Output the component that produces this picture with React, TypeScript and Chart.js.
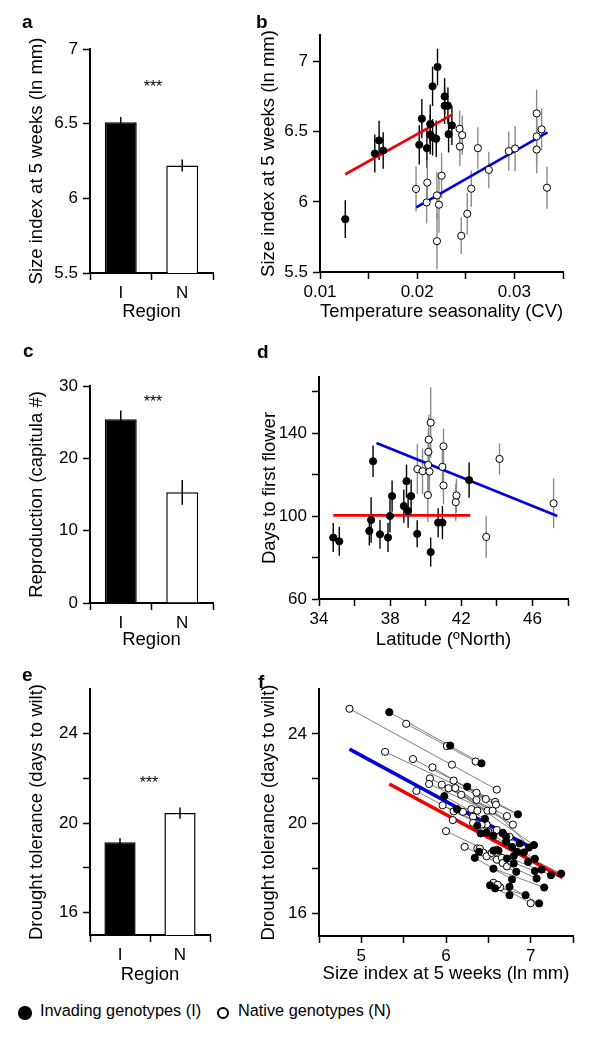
import React, { useEffect, useRef } from 'react';
import { Chart, registerables } from 'chart.js';

Chart.register(...registerables);

const FONT = "'Liberation Sans', Arial, Helvetica, sans-serif";
const TICK_SIZE = 17;
const TITLE_SIZE = 18.5;
const RED = '#f00000';
const BLUE = '#0000d8';

// ---------------- data ----------------
const regions = ['I', 'N'];
const sizeMean = [6.51, 6.22];
const sizeSE = [0.035, 0.04];
const reproMean = [25.4, 15.3];
const reproSE = [1.2, 1.7];
const droughtMean = [19.15, 20.45];
const droughtSE = [0.18, 0.25];

// panel b: [seasonality CV, size index, error]
const seasonInvading = [
  [0.0126, 5.877, 0.135], [0.01564, 6.345, 0.135], [0.01608, 6.438, 0.14], [0.0165, 6.366, 0.13],
  [0.02021, 6.407, 0.14], [0.02048, 6.593, 0.14], [0.021, 6.383, 0.14], [0.02134, 6.555, 0.14],
  [0.02134, 6.479, 0.14], [0.02158, 6.824, 0.14], [0.02158, 6.46, 0.13], [0.02196, 6.45, 0.13],
  [0.02209, 6.962, 0.13], [0.02282, 6.752, 0.13], [0.02282, 6.686, 0.13], [0.02316, 6.686, 0.13],
  [0.02323, 6.483, 0.13], [0.02357, 6.545, 0.14],
];
const seasonNative = [
  [0.01988, 6.092, 0.16], [0.02097, 5.996, 0.15], [0.02104, 6.137, 0.16], [0.02203, 6.046, 0.17],
  [0.02203, 5.72, 0.2], [0.02224, 5.98, 0.2], [0.02251, 6.187, 0.16], [0.02436, 6.521, 0.13],
  [0.02439, 6.395, 0.14], [0.02463, 6.476, 0.14], [0.02453, 5.758, 0.13], [0.02515, 5.915, 0.15],
  [0.02556, 6.094, 0.13], [0.02624, 6.383, 0.15], [0.02737, 6.228, 0.13], [0.02942, 6.362, 0.14],
  [0.03007, 6.381, 0.16], [0.03229, 6.631, 0.17], [0.03229, 6.467, 0.2], [0.03229, 6.373, 0.17],
  [0.0328, 6.517, 0.15], [0.03335, 6.101, 0.15],
];
const seasonFitI = [[0.0126, 6.197], [0.0236, 6.622]];
const seasonFitN = [[0.0199, 5.961], [0.0334, 6.495]];

// panel d: [latitude, days, error]
const latInvading = [
  [34.8, 89.6, 7], [35.14, 87.8, 7], [36.83, 92.8, 7], [36.93, 98.1, 11], [37.04, 126.4, 7.6],
  [37.43, 91.2, 7], [37.88, 89.6, 7], [37.99, 100, 8], [38.11, 109.6, 7.5], [38.77, 104.8, 8],
  [38.92, 116.8, 8], [39.01, 102.4, 8], [39.18, 109.6, 8], [39.52, 91.4, 6.5], [40.28, 82.6, 7],
  [40.7, 96.8, 7], [40.94, 96.8, 8], [42.44, 117.3, 8.5],
];
const latNative = [
  [39.53, 122.6, 12], [39.82, 121.6, 11], [40.12, 110.1, 13], [40.14, 124.6, 12], [40.15, 130.9, 11],
  [40.17, 136.8, 12], [40.21, 121.4, 12], [40.28, 145, 17], [40.94, 123.7, 10], [41.0, 133.6, 8.5],
  [41.0, 114.7, 9], [41.69, 106.7, 9], [41.73, 109.9, 8], [43.4, 89.9, 10], [44.15, 127.5, 7.5],
  [47.19, 106.1, 12],
];
const latFitI = [[34.8, 100.3], [42.5, 100.3]];
const latFitN = [[37.23, 135.2], [47.4, 100]];

// panel f: [size index, days to wilt]
const wiltInvading = [
  [5.33, 24.97], [6.05, 23.48], [6.42, 22.69], [5.98, 21.23], [6.25, 21.65], [6.13, 20.65],
  [6.85, 20.42], [6.46, 20.22], [6.37, 19.91], [6.41, 19.57], [6.48, 19.61], [6.56, 19.46],
  [6.67, 19.57], [6.71, 19.42], [6.71, 19.2], [6.78, 18.97], [6.87, 19.12], [6.92, 18.72],
  [6.84, 18.75], [6.98, 18.94], [7.04, 19.05], [6.39, 18.75], [6.56, 18.8], [6.62, 18.8],
  [6.72, 18.45], [6.8, 18.56], [6.8, 18.23], [6.83, 17.86], [6.97, 18.3], [7.05, 18.44],
  [7.05, 17.89], [7.07, 17.56], [7.13, 17.96], [7.24, 17.71], [7.36, 17.78], [6.34, 18.48],
  [6.56, 18.0], [6.78, 17.52], [6.52, 17.26], [6.58, 17.12], [6.75, 17.19], [6.75, 16.82],
  [6.94, 16.82], [7.16, 17.16], [7.1, 16.45],
];
const wiltNative = [
  [4.86, 25.12], [5.53, 24.45], [6.01, 23.46], [6.35, 22.77], [5.28, 23.2], [5.61, 22.88],
  [5.84, 22.51], [6.07, 22.63], [5.81, 22.02], [5.8, 21.77], [5.95, 21.74], [6.09, 21.92],
  [5.65, 21.46], [6.03, 21.58], [6.11, 21.59], [6.18, 21.29], [6.36, 21.38], [6.36, 21.06],
  [6.47, 21.1], [6.6, 21.52], [6.58, 20.97], [6.59, 20.85], [5.96, 20.82], [6.09, 20.55],
  [6.3, 20.65], [6.37, 20.58], [6.49, 20.58], [6.55, 20.58], [6.72, 20.34], [6.79, 19.96],
  [6.08, 20.16], [6.0, 19.67], [6.22, 18.97], [6.48, 19.97], [6.6, 19.72], [6.37, 18.9],
  [6.56, 17.37], [6.64, 17.17], [7.0, 16.46], [6.2, 20.53], [6.32, 20.31], [6.32, 20.04],
  [6.42, 19.96], [6.5, 19.64], [6.67, 19.6], [6.75, 19.42], [6.4, 18.89], [6.44, 18.71],
  [6.48, 18.55], [6.54, 18.7], [6.6, 18.4], [6.66, 18.48], [6.67, 18.25], [6.72, 18.1],
  [6.77, 18.3], [6.6, 18.84], [6.61, 17.28],
];
// genotype links: [x1, y1, x2, y2]
const wiltLinks = [
  [4.86, 25.12, 6.6, 21.52], [5.33, 24.97, 6.42, 22.69], [5.53, 24.45, 6.35, 22.77],
  [5.28, 23.2, 6.85, 20.42], [5.61, 22.88, 6.58, 20.97], [5.84, 22.51, 6.59, 20.85],
  [5.81, 22.02, 6.72, 20.34], [5.8, 21.77, 6.49, 20.58], [5.65, 21.46, 6.09, 20.55],
  [5.95, 21.74, 6.79, 19.96], [6.09, 21.92, 6.47, 21.1], [5.98, 21.23, 6.46, 20.22],
  [6.25, 21.65, 6.85, 20.42], [6.03, 21.58, 6.55, 20.58], [6.11, 21.59, 6.79, 19.96],
  [6.18, 21.29, 7.04, 19.05], [6.36, 21.38, 7.01, 18.9], [5.96, 20.82, 6.67, 19.57],
  [6.13, 20.65, 6.87, 19.12], [6.09, 20.55, 6.71, 19.42], [6.08, 20.16, 6.78, 18.97],
  [6.0, 19.67, 6.8, 18.23], [6.22, 18.97, 6.83, 17.86], [6.34, 18.48, 6.78, 17.52],
  [6.37, 19.91, 7.01, 18.9], [6.41, 19.57, 6.92, 18.72], [6.56, 19.46, 7.05, 18.44],
  [6.39, 18.75, 7.07, 17.56], [6.56, 18.8, 7.24, 17.71], [6.84, 18.75, 7.36, 17.78],
  [6.52, 17.26, 6.94, 16.82], [6.58, 17.12, 6.75, 16.82], [6.75, 17.19, 7.1, 16.45],
  [6.37, 18.9, 7.05, 17.89], [6.56, 18.0, 7.16, 17.16], [6.61, 17.28, 7.0, 16.46],
];
const wiltFitI = [[5.33, 21.77], [7.38, 17.6]];
const wiltFitN = [[4.86, 23.32], [7.01, 18.93]];

// ticks
const sizeTicks = [5.5, 6, 6.5, 7];
const sizeTickLabels = ['5.5', '6', '6.5', '7'];
const reproTicks = [0, 10, 20, 30];
const reproTickLabels = ['0', '10', '20', '30'];
const wiltTicks = [16, 18, 20, 22, 24];
const wiltTickLabels = ['16', '', '20', '', '24'];
const seasonTicks = [0.01, 0.015, 0.02, 0.025, 0.03, 0.035];
const seasonTickLabels = ['0.01', '', '0.02', '', '0.03', ''];
const latTicks = [34, 36, 38, 40, 42, 44, 46, 48];
const latTickLabels = ['34', '', '38', '', '42', '', '46', ''];
const daysTicks = [60, 80, 100, 120, 140, 160];
const daysTickLabels = ['60', '', '100', '', '140', ''];
const sizeXTicks = [4.5, 5, 5.5, 6, 6.5, 7, 7.5];
const sizeXTickLabels = ['', '5', '', '6', '', '7', ''];

// ---------------- helpers ----------------
const LH = TITLE_SIZE * 1.2;

function drawErrorBars(chart: any) {
  const ctx = chart.ctx;
  const yScale = chart.scales.y;
  chart.data.datasets.forEach((ds: any, i: number) => {
    if (!ds.errors) return;
    const meta = chart.getDatasetMeta(i);
    ctx.save();
    ctx.strokeStyle = ds.errorColor || '#000';
    ctx.lineWidth = ds.errorWidth || 1.5;
    meta.data.forEach((el: any, j: number) => {
      const raw = ds.data[j];
      const v = typeof raw === 'number' ? raw : raw.y;
      const e = ds.errors[j];
      ctx.beginPath();
      ctx.moveTo(el.x, yScale.getPixelForValue(v + e));
      ctx.lineTo(el.x, yScale.getPixelForValue(v - e));
      ctx.stroke();
    });
    ctx.restore();
  });
}

const errorBarPlugin = {
  id: 'errorBars',
  beforeDatasetsDraw(chart: any, _a: any, opts: any) {
    if (!opts || !opts.after) drawErrorBars(chart);
  },
  afterDatasetsDraw(chart: any, _a: any, opts: any) {
    if (opts && opts.after) drawErrorBars(chart);
  },
};

function grid() {
  return { display: true, drawOnChartArea: false, drawTicks: true, tickLength: 7, tickWidth: 1.5, tickColor: '#000', offset: false };
}
function tickFont() {
  return { family: FONT, size: TICK_SIZE };
}
function titleFont() {
  return { family: FONT, size: TITLE_SIZE, lineHeight: 1.2 };
}

function yAxis(min: number, max: number, vals: number[], labels: string[], width: number, text: string, center: number) {
  return {
    type: 'linear',
    position: 'left',
    min,
    max,
    afterBuildTicks: (s: any) => { s.ticks = vals.map((v) => ({ value: v })); },
    afterFit: (s: any) => { s.width = width; },
    grid: grid(),
    border: { display: true, color: '#000', width: 2 },
    ticks: { autoSkip: false, maxRotation: 0, padding: 5, color: '#000', font: tickFont(), callback: (_v: any, i: number) => labels[i] },
    title: { display: true, text, color: '#000', font: titleFont(), padding: { top: center - LH / 2, bottom: 0 } },
  };
}

function xLinear(min: number, max: number, vals: number[], labels: string[], height: number, text: string, offset: number) {
  return {
    type: 'linear',
    position: 'bottom',
    min,
    max,
    afterBuildTicks: (s: any) => { s.ticks = vals.map((v) => ({ value: v })); },
    afterFit: (s: any) => { s.height = height; },
    grid: grid(),
    border: { display: true, color: '#000', width: 2 },
    ticks: { autoSkip: false, maxRotation: 0, padding: 3, color: '#000', font: tickFont(), callback: (_v: any, i: number) => labels[i] },
    title: { display: true, text, color: '#000', font: titleFont(), padding: { top: 0, bottom: offset - LH / 2 } },
  };
}

function xCategory(height: number, offset: number) {
  return {
    type: 'category',
    position: 'bottom',
    offset: true,
    afterFit: (s: any) => { s.height = height; },
    grid: { ...grid(), offset: true },
    border: { display: true, color: '#000', width: 2 },
    ticks: { autoSkip: false, maxRotation: 0, padding: 3, color: '#000', font: tickFont() },
    title: { display: true, text: 'Region', color: '#000', font: titleFont(), padding: { top: 0, bottom: offset - LH / 2 } },
  };
}

function basePlugins(after: boolean) {
  return { legend: { display: false }, tooltip: { enabled: false }, errorBars: { after } };
}

function barConfig(means: number[], errs: number[], yMin: number, yMax: number, vals: number[], labels: string[], yTitle: string, pad: any, yTitleCenter: number, xHeight: number, xOffset: number) {
  return {
    type: 'bar',
    data: {
      labels: regions,
      datasets: [{
        data: means,
        errors: errs,
        errorColor: '#000',
        errorWidth: 1.5,
        backgroundColor: ['#000', '#fff'],
        borderColor: '#000',
        borderWidth: 1.5,
        barPercentage: 0.52,
        categoryPercentage: 1,
      }],
    },
    options: {
      responsive: false,
      animation: false,
      devicePixelRatio: 1,
      layout: { padding: pad },
      plugins: basePlugins(true),
      scales: {
        x: xCategory(xHeight, xOffset),
        y: yAxis(yMin, yMax, vals, labels, 90, yTitle, yTitleCenter),
      },
    },
    plugins: [errorBarPlugin],
  };
}

function pts(arr: number[][]) {
  return arr.map((p) => ({ x: p[0], y: p[1] }));
}

function pointSet(arr: number[][], filled: boolean, errColor: string | null, order: number) {
  return {
    type: 'scatter',
    data: pts(arr),
    errors: errColor ? arr.map((p) => p[2]) : undefined,
    errorColor: errColor,
    errorWidth: 1.4,
    pointRadius: 3.6,
    pointBackgroundColor: filled ? '#000' : '#fff',
    pointBorderColor: '#000',
    pointBorderWidth: 1,
    showLine: false,
    order,
  };
}

function lineSet(arr: number[][], color: string, width: number, order: number) {
  return {
    type: 'scatter',
    data: pts(arr),
    showLine: true,
    borderColor: color,
    borderWidth: width,
    pointRadius: 0,
    fill: false,
    order,
  };
}

function linkSet(links: number[][]) {
  const data: any[] = [];
  links.forEach((s) => {
    data.push({ x: s[0], y: s[1] });
    data.push({ x: s[2], y: s[3] });
    data.push({ x: NaN, y: NaN });
  });
  return {
    type: 'scatter',
    data,
    showLine: true,
    spanGaps: false,
    borderColor: '#707070',
    borderWidth: 0.9,
    pointRadius: 0,
    order: 5,
  };
}

function scatterConfig(datasets: any[], scales: any, pad: any) {
  return {
    type: 'scatter',
    data: { datasets },
    options: {
      responsive: false,
      animation: false,
      devicePixelRatio: 1,
      layout: { padding: pad },
      plugins: basePlugins(false),
      scales,
    },
    plugins: [errorBarPlugin],
  };
}

// ---------------- panels ----------------
const panelA = () => barConfig(sizeMean, sizeSE, 5.5, 7, sizeTicks, sizeTickLabels, 'Size index at 5 weeks (ln mm)',
  { left: 0, right: 17, top: 49, bottom: 0 }, 37, 57, 18);
const panelC = () => barConfig(reproMean, reproSE, 0, 30, reproTicks, reproTickLabels, 'Reproduction (capitula #)',
  { left: 0, right: 17, top: 56, bottom: 0 }, 36.5, 57, 20);
const panelE = () => barConfig(droughtMean, droughtSE, 15, 26, wiltTicks, wiltTickLabels, 'Drought tolerance (days to wilt)',
  { left: 0, right: 20, top: 29, bottom: 0 }, 36.5, 55, 15.5);

const panelB = () => scatterConfig(
  [
    pointSet(seasonInvading, true, '#000', 1),
    pointSet(seasonNative, false, '#8a8a8a', 2),
    lineSet(seasonFitI, RED, 2.6, 3),
    lineSet(seasonFitN, BLUE, 2.6, 3),
  ],
  {
    x: xLinear(0.01, 0.035, seasonTicks, seasonTickLabels, 58, 'Temperature seasonality (CV)', 18),
    y: yAxis(5.5, 7.19, sizeTicks, sizeTickLabels, 90, 'Size index at 5 weeks (ln mm)', 38.5),
  },
  { left: 0, right: 44, top: 35, bottom: 0 },
);

const panelD = () => scatterConfig(
  [
    pointSet(latInvading, true, '#000', 1),
    pointSet(latNative, false, '#8a8a8a', 2),
    lineSet(latFitI, RED, 2.6, 3),
    lineSet(latFitN, BLUE, 2.6, 3),
  ],
  {
    x: xLinear(34, 48, latTicks, latTickLabels, 61, 'Latitude (ºNorth)', 20.5),
    y: yAxis(60, 167, daysTicks, daysTickLabels, 89, 'Days to first flower', 40),
  },
  { left: 0, right: 39, top: 47, bottom: 0 },
);

const panelF = () => scatterConfig(
  [
    pointSet(wiltInvading, true, null, 1),
    pointSet(wiltNative, false, null, 2),
    lineSet(wiltFitI, RED, 3.6, 3),
    lineSet(wiltFitN, BLUE, 3.6, 3),
    linkSet(wiltLinks),
  ],
  {
    x: xLinear(4.5, 7.5, sizeXTicks, sizeXTickLabels, 54, 'Size index at 5 weeks (ln mm)', 16.5),
    y: yAxis(15, 26, wiltTicks, wiltTickLabels, 89, 'Drought tolerance (days to wilt)', 39),
  },
  { left: 0, right: 34, top: 29, bottom: 0 },
);

function ChartPanel({ left, top, width, height, make }: { left: number; top: number; width: number; height: number; make: () => any }) {
  const ref = useRef<HTMLCanvasElement>(null);
  useEffect(() => {
    const chart = new Chart(ref.current as HTMLCanvasElement, make());
    return () => chart.destroy();
  }, []);
  return (
    <canvas
      ref={ref}
      width={width}
      height={height}
      style={{ position: 'absolute', left, top, width, height }}
    />
  );
}

const letterStyle = (left: number, baseline: number): React.CSSProperties => ({
  position: 'absolute',
  left,
  top: baseline - 16.1,
  fontFamily: FONT,
  fontWeight: 'bold',
  fontSize: 19,
  lineHeight: 1,
  color: '#000',
});

const starStyle = (cx: number, top: number): React.CSSProperties => ({
  position: 'absolute',
  left: cx - 25,
  width: 50,
  top,
  textAlign: 'center',
  fontFamily: FONT,
  fontSize: 16,
  lineHeight: 1,
  color: '#000',
});

const legendText = (left: number): React.CSSProperties => ({
  position: 'absolute',
  left,
  top: 1002,
  fontFamily: FONT,
  fontSize: 16.3,
  lineHeight: 1,
  whiteSpace: 'nowrap',
  color: '#000',
});

export default function App() {
  return (
    <div style={{ position: 'absolute', left: 0, top: 0, width: 607, height: 1050, background: '#fff', overflow: 'hidden' }}>
      <ChartPanel left={0} top={0} width={230} height={330} make={panelA} />
      <ChartPanel left={230} top={0} width={377} height={330} make={panelB} />
      <ChartPanel left={0} top={330} width={230} height={330} make={panelC} />
      <ChartPanel left={230} top={330} width={377} height={330} make={panelD} />
      <ChartPanel left={0} top={660} width={230} height={330} make={panelE} />
      <ChartPanel left={230} top={660} width={377} height={330} make={panelF} />

      <div style={letterStyle(22, 28)}>a</div>
      <div style={letterStyle(256, 28)}>b</div>
      <div style={letterStyle(23, 357)}>c</div>
      <div style={letterStyle(257, 358)}>d</div>
      <div style={letterStyle(22, 681)}>e</div>
      <div style={letterStyle(258, 688)}>f</div>

      <div style={starStyle(153, 79)}>***</div>
      <div style={starStyle(153, 394)}>***</div>
      <div style={starStyle(149, 775)}>***</div>

      <div style={{ position: 'absolute', left: 18.3, top: 1006.3, width: 13.4, height: 13.4, borderRadius: '50%', background: '#000' }} />
      <div style={legendText(40)}>Invading genotypes (I)</div>
      <div style={{ position: 'absolute', left: 216.7, top: 1007, width: 12, height: 12, borderRadius: '50%', border: '2px solid #000', boxSizing: 'border-box' }} />
      <div style={legendText(238)}>Native genotypes (N)</div>
    </div>
  );
}
